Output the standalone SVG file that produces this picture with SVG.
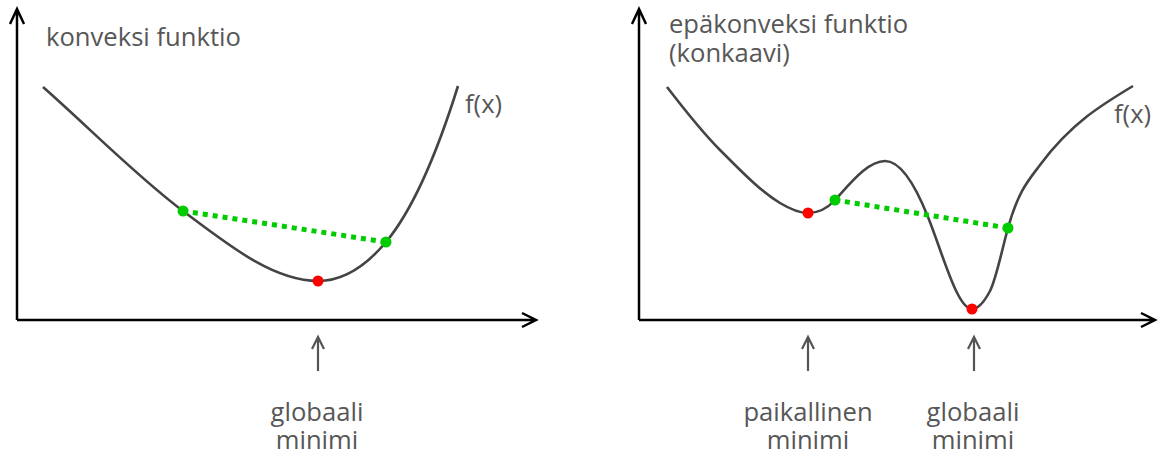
<svg xmlns="http://www.w3.org/2000/svg" width="1158" height="455" viewBox="0 0 1158 455">
<style>
.axis{fill:none;stroke:#000;stroke-width:2.5;stroke-linecap:butt;stroke-linejoin:miter}
.curve{fill:none;stroke:#444;stroke-width:2.6}
.chord{fill:none;stroke:#00cc00;stroke-width:5;stroke-dasharray:5 5}
.ptr{fill:none;stroke:#555;stroke-width:2.2}
.g{fill:#00cc00}
.r{fill:#ff0000}
text{font-family:"Open Sans","Noto Sans","DejaVu Sans",sans-serif;font-size:25.6px;fill:#575757}
.c{text-anchor:middle}
</style>
<rect width="1158" height="455" fill="#fff"/>
<g id="connectors">
<path class="axis" d="M17,320 L17,9 M10,24 L17,9 L24,24"/>
<path class="axis" d="M17,320 L536,320 M522,313 L536,320 L522,327"/>
<path class="axis" d="M639,320 L639,9 M632,24 L639,9 L646,24"/>
<path class="axis" d="M639,320 L1155,320 M1141,313 L1155,320 L1141,327"/>
<path class="ptr" d="M318,371 L318,337 M312,349 L318,337 L324,349"/>
<path class="ptr" d="M808,371 L808,337 M802,349 L808,337 L814,349"/>
<path class="ptr" d="M974,371 L974,337 M968,349 L974,337 L980,349"/>
</g>
<g id="left-plot">
<text x="46" y="46">konveksi funktio</text>
<path class="curve" d="M43,87 C89.7,128.1 136.3,176 183,211 C228,244.75 273,281 318,281 C340.7,281 363.3,269.2 386,242 C410,213.2 434,162.8 458,86"/>
<text x="465" y="113">f(x)</text>
<path class="chord" d="M183,211 L386,242"/>
<circle class="g" cx="183" cy="211" r="5.5"/>
<circle class="g" cx="386" cy="242" r="5.5"/>
<circle class="r" cx="318" cy="281" r="5.5"/>
<text class="c" x="317" y="421">globaali</text>
<text class="c" x="317" y="449">minimi</text>
</g>
<g id="right-plot">
<text x="669" y="33">epäkonveksi funktio</text>
<text x="669" y="62">(konkaavi)</text>
<path class="curve" d="M667,87 C684.7,110 702.3,132.3 720,150 C740,170 760,191 780,203 C789.3,208.6 798.7,213 808,213 C817,213 826,209.9 835,200 C851.7,181.7 868.3,161 885,161 C899.3,161 913.7,181.2 928,217 C942.7,253.7 957.3,309 972,309 C978,309 984,302.4 990,291 C996,279.6 1002,249.6 1008,228 C1018.7,189.6 1029.3,179.4 1040,165 C1071,123.2 1102,104.6 1133,86"/>
<text x="1114" y="123">f(x)</text>
<path class="chord" d="M835,200 L1008,228"/>
<circle class="g" cx="835" cy="200" r="5.5"/>
<circle class="g" cx="1008" cy="228" r="5.5"/>
<circle class="r" cx="808" cy="213" r="5.5"/>
<circle class="r" cx="972" cy="309" r="5.5"/>
<text class="c" x="808" y="421">paikallinen</text>
<text class="c" x="808" y="449">minimi</text>
<text class="c" x="973" y="421">globaali</text>
<text class="c" x="973" y="449">minimi</text>
</g>
</svg>
